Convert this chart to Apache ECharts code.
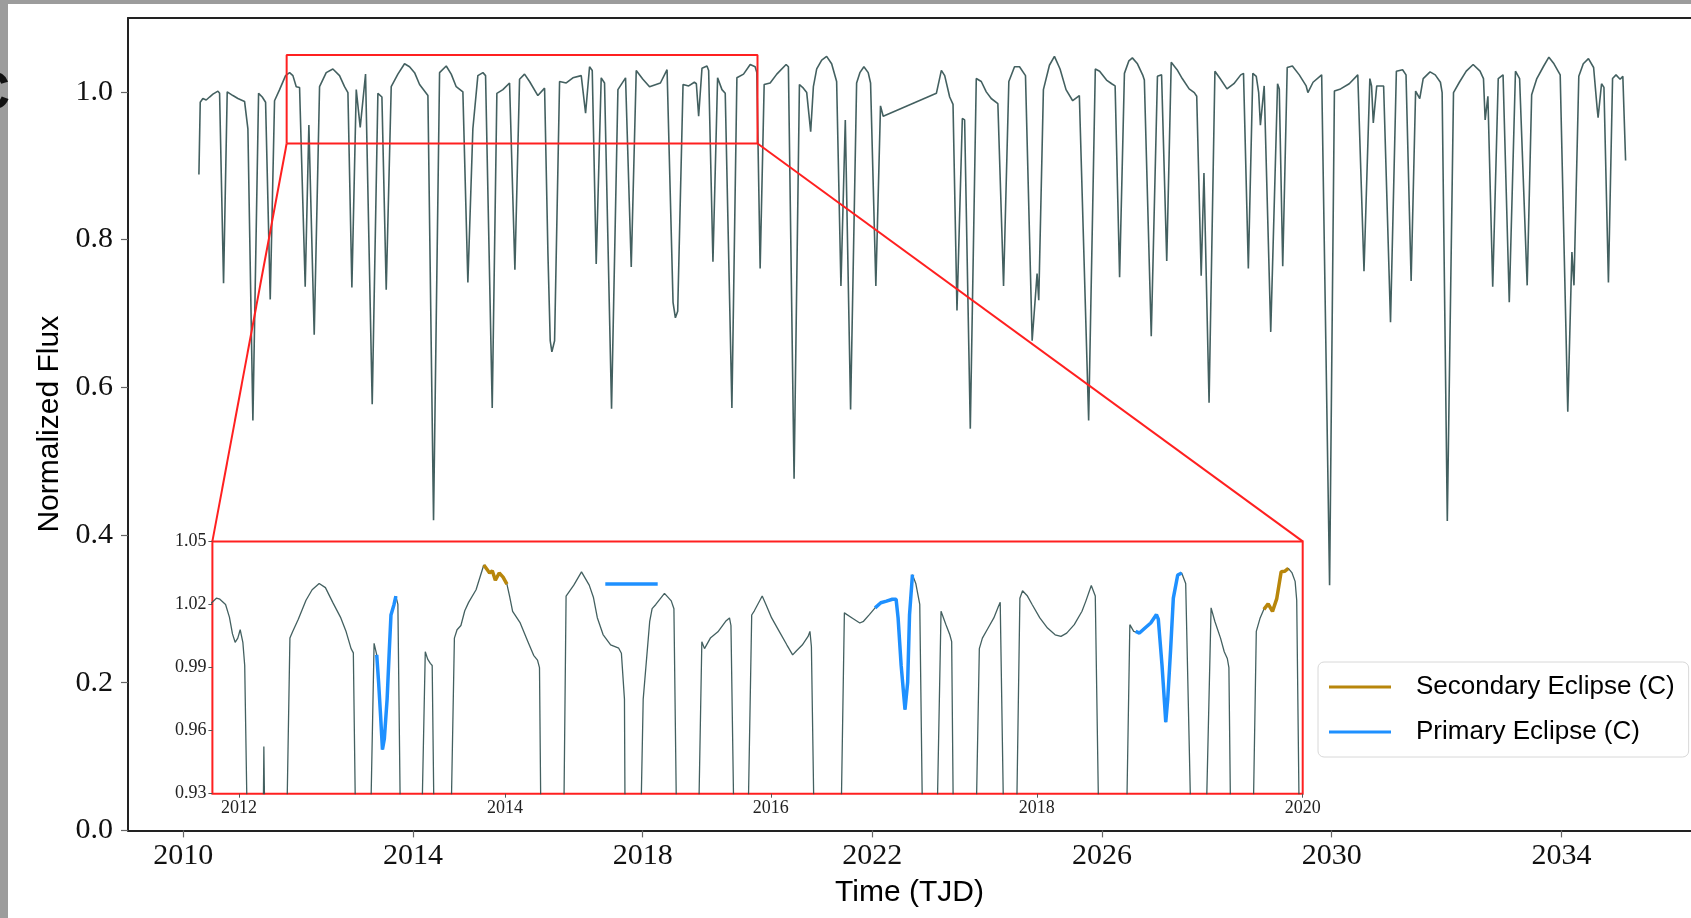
<!DOCTYPE html>
<html><head><meta charset="utf-8">
<script src="https://cdn.jsdelivr.net/npm/echarts@6/dist/echarts.min.js"></script>
<style>html,body{margin:0;padding:0;background:#fff;overflow:hidden}#c{width:1691px;height:918px}</style>
</head><body><div id="c"></div>
<script>
// ---------- data ----------
const mainXTicks = [2010, 2014, 2018, 2022, 2026, 2030, 2034];
const mainYTicks = [0, 0.2, 0.4, 0.6, 0.8, 1.0];
const insetXTicks = [2012, 2014, 2016, 2018, 2020];
const insetYTicks = [0.93, 0.96, 0.99, 1.02, 1.05];
const zoomX = [2011.8, 2020];
const zoomY = [0.93, 1.05];

const mainTime = [2010.272,2010.295,2010.341,2010.399,2010.457,2010.516,2010.603,2010.632,2010.701,2010.765,2010.864,2010.951,2011.067,2011.125,2011.212,2011.311,2011.375,2011.433,2011.514,2011.589,2011.677,2011.781,2011.851,2011.909,2011.967,2012.025,2012.123,2012.187,2012.280,2012.373,2012.489,2012.605,2012.721,2012.808,2012.867,2012.936,2013.012,2013.081,2013.174,2013.290,2013.389,2013.459,2013.534,2013.621,2013.737,2013.853,2013.940,2014.028,2014.115,2014.260,2014.358,2014.463,2014.579,2014.666,2014.753,2014.869,2014.956,2015.043,2015.130,2015.218,2015.264,2015.380,2015.461,2015.566,2015.682,2015.775,2015.856,2015.943,2016.030,2016.175,2016.292,2016.350,2016.390,2016.419,2016.466,2016.553,2016.669,2016.785,2016.930,2017.006,2017.075,2017.122,2017.191,2017.278,2017.336,2017.458,2017.569,2017.702,2017.801,2017.888,2018.004,2018.120,2018.309,2018.425,2018.529,2018.570,2018.610,2018.703,2018.802,2018.900,2018.935,2018.975,2019.033,2019.120,2019.149,2019.224,2019.305,2019.381,2019.438,2019.554,2019.641,2019.757,2019.873,2019.959,2019.988,2020.046,2020.116,2020.220,2020.336,2020.498,2020.538,2020.637,2020.730,2020.799,2020.857,2020.926,2020.973,2021.031,2021.118,2021.204,2021.291,2021.378,2021.453,2021.529,2021.621,2021.726,2021.783,2021.853,2021.928,2021.969,2022.061,2022.142,2022.189,2022.218,2023.115,2023.202,2023.260,2023.347,2023.405,2023.474,2023.567,2023.607,2023.706,2023.810,2023.897,2023.984,2024.070,2024.186,2024.285,2024.377,2024.476,2024.563,2024.667,2024.783,2024.869,2024.898,2024.979,2025.084,2025.171,2025.269,2025.373,2025.489,2025.605,2025.767,2025.883,2025.958,2026.078,2026.168,2026.228,2026.306,2026.390,2026.468,2026.528,2026.617,2026.707,2026.737,2026.857,2026.965,2027.037,2027.127,2027.205,2027.307,2027.397,2027.517,2027.607,2027.649,2027.727,2027.775,2027.864,2027.966,2028.056,2028.176,2028.296,2028.416,2028.464,2028.548,2028.626,2028.686,2028.728,2028.758,2028.824,2028.938,2029.057,2029.087,2029.147,2029.225,2029.315,2029.435,2029.555,2029.585,2029.675,2029.825,2029.963,2030.047,2030.155,2030.305,2030.454,2030.562,2030.664,2030.694,2030.724,2030.784,2030.904,2031.024,2031.126,2031.234,2031.294,2031.383,2031.461,2031.533,2031.593,2031.713,2031.803,2031.893,2031.923,2032.013,2032.121,2032.223,2032.343,2032.463,2032.583,2032.643,2032.672,2032.720,2032.804,2032.900,2032.984,2033.092,2033.200,2033.272,2033.404,2033.482,2033.572,2033.692,2033.782,2033.871,2033.979,2034.111,2034.183,2034.219,2034.303,2034.381,2034.471,2034.561,2034.621,2034.639,2034.699,2034.741,2034.819,2034.891,2034.951,2035.022,2035.070,2035.118];
const mainFlux = [0.888,0.986,0.991,0.989,0.993,0.997,1.001,0.998,0.741,1.000,0.995,0.991,0.987,0.950,0.555,0.998,0.993,0.986,0.719,0.988,1.003,1.022,1.026,1.022,1.007,1.006,0.736,0.955,0.671,1.007,1.026,1.031,1.022,1.007,0.999,0.735,1.003,0.952,1.024,0.577,0.998,0.993,0.732,1.007,1.024,1.038,1.034,1.026,1.010,0.995,0.420,1.026,1.035,1.024,1.007,1.000,0.742,0.950,1.022,1.026,1.022,0.572,0.998,1.003,1.012,0.759,1.017,1.024,1.014,0.995,1.005,0.782,0.663,0.648,0.663,1.014,1.012,1.019,1.022,0.971,1.034,1.029,0.767,1.019,1.012,0.571,1.003,1.019,0.763,1.029,1.017,1.007,1.012,1.030,0.715,0.694,0.703,1.010,1.008,1.013,1.011,0.967,1.032,1.035,1.029,0.770,1.019,1.003,0.998,0.572,1.019,1.024,1.037,1.034,1.026,0.761,1.010,1.012,1.024,1.037,1.034,0.476,1.010,1.005,0.999,0.946,1.007,1.031,1.043,1.048,1.038,1.014,0.737,0.962,0.570,1.012,1.026,1.034,1.026,1.012,0.737,0.981,0.967,0.969,0.998,1.029,1.022,0.993,0.983,0.704,0.964,0.962,0.544,1.018,1.014,1.000,0.991,0.984,0.737,1.014,1.034,1.034,1.022,0.663,0.754,0.718,1.003,1.036,1.048,1.031,1.003,0.988,0.995,0.555,1.031,1.028,1.016,1.011,1.008,0.749,1.025,1.042,1.046,1.038,1.023,1.016,0.669,1.021,1.023,0.771,1.040,1.030,1.018,1.004,0.999,0.994,0.751,0.890,0.579,1.028,1.018,1.004,1.011,1.023,1.025,0.761,1.025,1.021,0.999,0.955,1.008,0.675,1.011,1.004,0.764,1.033,1.035,1.023,1.008,0.999,1.013,1.023,0.332,1.001,1.004,1.011,1.023,0.757,1.018,1.008,0.958,1.008,1.008,0.688,1.028,1.030,1.023,0.744,1.001,0.991,1.018,1.027,1.023,1.013,0.999,0.419,0.999,1.013,1.028,1.037,1.028,1.018,0.962,0.994,0.736,1.018,1.023,0.715,1.028,1.018,0.738,0.996,1.018,1.035,1.047,1.038,1.023,0.567,0.783,0.738,1.021,1.038,1.045,1.033,0.979,0.965,1.011,1.006,0.742,1.018,1.023,1.017,1.021,0.907];

const insetTime = [2011.78,2011.83,2011.856,2011.899,2011.928,2011.951,2011.971,2011.991,2012.009,2012.029,2012.043,2012.066,2012.180,2012.187,2012.197,2012.355,2012.383,2012.403,2012.446,2012.504,2012.550,2012.603,2012.650,2012.705,2012.763,2012.806,2012.843,2012.860,2012.880,2012.985,2013.016,2013.036,2013.050,2013.065,2013.079,2013.093,2013.114,2013.131,2013.143,2013.166,2013.180,2013.195,2013.217,2013.370,2013.401,2013.419,2013.439,2013.453,2013.470,2013.590,2013.620,2013.640,2013.669,2013.698,2013.727,2013.783,2013.841,2013.862,2013.885,2013.905,2013.928,2013.957,2013.986,2014.015,2014.035,2014.058,2014.115,2014.173,2014.216,2014.245,2014.260,2014.273,2014.440,2014.460,2014.518,2014.576,2014.634,2014.666,2014.695,2014.738,2014.795,2014.856,2014.876,2014.899,2014.905,2015.017,2015.040,2015.089,2015.107,2015.135,2015.200,2015.251,2015.271,2015.294,2015.452,2015.481,2015.501,2015.545,2015.602,2015.660,2015.689,2015.700,2015.726,2015.824,2015.856,2015.876,2015.935,2015.963,2016.006,2016.063,2016.121,2016.164,2016.193,2016.236,2016.280,2016.294,2016.305,2016.329,2016.524,2016.553,2016.611,2016.669,2016.697,2016.741,2016.784,2016.827,2016.870,2016.914,2016.942,2016.957,2016.980,2017.009,2017.029,2017.043,2017.065,2017.090,2017.120,2017.144,2017.245,2017.280,2017.317,2017.346,2017.360,2017.375,2017.539,2017.568,2017.591,2017.634,2017.677,2017.712,2017.725,2017.755,2017.844,2017.873,2017.893,2017.930,2017.965,2018.023,2018.081,2018.138,2018.182,2018.225,2018.282,2018.340,2018.369,2018.410,2018.440,2018.470,2018.671,2018.700,2018.729,2018.744,2018.772,2018.786,2018.814,2018.857,2018.900,2018.914,2018.942,2018.962,2018.970,2018.985,2019.007,2019.027,2019.060,2019.090,2019.120,2019.165,2019.268,2019.311,2019.339,2019.382,2019.410,2019.433,2019.445,2019.461,2019.623,2019.651,2019.680,2019.708,2019.740,2019.773,2019.805,2019.838,2019.864,2019.892,2019.920,2019.943,2019.955,2019.977];
const insetFlux = [1.020,1.023,1.0225,1.020,1.014,1.006,1.002,1.004,1.008,1.002,0.991,0.900,0.900,0.9525,0.900,0.900,1.004,1.007,1.013,1.022,1.027,1.030,1.028,1.021,1.014,1.007,0.999,0.997,0.900,0.900,1.0015,0.996,0.983,0.967,0.951,0.956,0.975,0.999,1.015,1.020,1.024,1.020,0.900,0.900,0.9975,0.994,0.992,0.991,0.900,0.900,1.004,1.008,1.010,1.017,1.021,1.027,1.0388,1.037,1.035,1.036,1.0315,1.035,1.033,1.0297,1.024,1.0167,1.0112,1.0023,0.9958,0.9935,0.990,0.900,0.900,1.024,1.0292,1.0355,1.0292,1.0233,1.0137,1.0057,1.0008,0.9992,0.9968,0.975,0.900,0.900,0.975,1.012,1.018,1.020,1.0253,1.0217,1.018,0.900,0.900,1.0023,0.999,1.004,1.007,1.012,1.0136,1.010,0.900,0.900,1.015,1.017,1.024,1.020,1.0136,1.0072,1.0007,0.996,0.998,1.0007,1.0048,1.0072,1.000,0.900,0.900,1.016,1.0136,1.0112,1.012,1.0152,1.0184,1.0208,1.0216,1.0225,1.0225,1.0136,0.991,0.970,0.983,1.015,1.0342,1.030,1.020,0.900,0.900,1.0168,1.0104,1.0056,1.0023,0.900,0.900,0.999,1.004,1.0088,1.0136,1.0192,1.021,0.900,0.900,1.023,1.0265,1.024,1.020,1.0136,1.0088,1.0056,1.0048,1.0064,1.0104,1.0168,1.0216,1.029,1.024,0.900,0.900,1.0104,1.0072,1.0072,1.0064,1.0064,1.0088,1.0112,1.0152,1.013,0.991,0.972,0.964,0.975,0.999,1.023,1.034,1.035,1.030,0.900,0.900,1.0184,1.012,1.004,0.9975,0.9943,0.990,0.900,0.900,1.0072,1.0136,1.0177,1.0203,1.0167,1.0228,1.0356,1.0358,1.0372,1.035,1.031,1.022,0.900];

const primaryTime = [2013.036,2013.050,2013.065,2013.079,2013.093,2013.114,2013.131,2013.143,2013.166,2013.180,null,2014.755,2015.149,null,2016.784,2016.827,2016.870,2016.914,2016.942,2016.957,2016.980,2017.009,2017.029,2017.043,2017.065,null,2018.744,2018.772,2018.786,2018.814,2018.857,2018.900,2018.914,2018.942,2018.962,2018.970,2018.985,2019.007,2019.027,2019.060,2019.090];
const primaryFlux = [0.996,0.983,0.967,0.951,0.956,0.975,0.999,1.015,1.020,1.024,null,1.0297,1.0297,null,1.0184,1.0208,1.0216,1.0225,1.0225,1.0136,0.991,0.970,0.983,1.015,1.0342,null,1.0072,1.0064,1.0064,1.0088,1.0112,1.0152,1.013,0.991,0.972,0.964,0.975,0.999,1.023,1.034,1.035];

const secondaryTime = [2013.841,2013.862,2013.885,2013.905,2013.928,2013.957,2013.986,2014.015,null,2019.708,2019.740,2019.773,2019.805,2019.838,2019.864,2019.892];
const secondaryFlux = [1.0388,1.037,1.035,1.036,1.0315,1.035,1.033,1.0297,null,1.0177,1.0203,1.0167,1.0228,1.0356,1.0358,1.0372];

// ---------- helpers ----------
function pairs(t, f) { return t.map((v, i) => [v, f[i]]); }
function segments(t, f) {
  const out = []; let cur = [];
  t.forEach((v, i) => { if (v === null) { if (cur.length) out.push(cur); cur = []; } else cur.push([v, f[i]]); });
  if (cur.length) out.push(cur);
  return out;
}
const SERIF = 'Liberation Serif';
const SANS = 'Liberation Sans';
const GREY = '#2f4f4f';
const RED = '#ff2020';
const GOLD = '#b8860b';
const BLUE = '#1e90ff';
const plain = v => String(v);

const chart = echarts.init(document.getElementById('c'), null, {renderer: 'canvas'});

const series = [
  { name: 'flux', type: 'line', xAxisIndex: 0, yAxisIndex: 0, data: pairs(mainTime, mainFlux),
    showSymbol: false, symbol: 'none', lineStyle: { color: GREY, width: 1.6, opacity: 0.9 }, z: 5, silent: true },
  { name: 'box', type: 'line', xAxisIndex: 0, yAxisIndex: 0,
    data: [[zoomX[0], zoomY[0]], [zoomX[0], zoomY[1]], [zoomX[1], zoomY[1]], [zoomX[1], zoomY[0]], [zoomX[0], zoomY[0]]],
    showSymbol: false, symbol: 'none', lineStyle: { color: RED, width: 2 }, z: 8, silent: true },
  { name: 'inset', type: 'line', xAxisIndex: 2, yAxisIndex: 1, data: pairs(insetTime, insetFlux),
    showSymbol: false, symbol: 'none', clip: true, lineStyle: { color: GREY, width: 1.3, opacity: 0.9 }, z: 6, silent: true }
];
segments(secondaryTime, secondaryFlux).forEach(seg => series.push({
  name: 'Secondary Eclipse (C)', type: 'line', xAxisIndex: 2, yAxisIndex: 1, data: seg,
  showSymbol: false, symbol: 'none', clip: true, color: GOLD, lineStyle: { color: GOLD, width: 3.5 }, z: 7, silent: true }));
segments(primaryTime, primaryFlux).forEach(seg => series.push({
  name: 'Primary Eclipse (C)', type: 'line', xAxisIndex: 2, yAxisIndex: 1, data: seg,
  showSymbol: false, symbol: 'none', clip: true, color: BLUE, lineStyle: { color: BLUE, width: 3.5 }, z: 7, silent: true }));

const option = {
  animation: false,
  backgroundColor: '#fff',
  grid: [
    { left: 128, top: 18, right: 0, bottom: 87.6, containLabel: false },
    { left: 212.4, top: 541.4, right: 388.3, bottom: 124.3, show: true, backgroundColor: '#fff',
      borderColor: RED, borderWidth: 2 }
  ],
  xAxis: [
    { type: 'value', gridIndex: 0, min: 2009.037, max: 2036.257, splitLine: { show: false },
      axisLine: { show: true, onZero: false, lineStyle: { color: '#222', width: 2 } },
      axisTick: { show: true, customValues: mainXTicks, length: 7, lineStyle: { color: '#666', width: 1.2 } },
      axisLabel: { customValues: mainXTicks, formatter: plain, fontSize: 30, fontFamily: SERIF, color: '#111', margin: 11 },
      name: 'Time (TJD)', nameLocation: 'middle', nameGap: 47,
      nameTextStyle: { fontSize: 30, fontFamily: SANS, color: '#000' } },
    { type: 'value', gridIndex: 0, position: 'top', min: 2009.037, max: 2036.257, splitLine: { show: false },
      axisLine: { show: true, onZero: false, lineStyle: { color: '#222', width: 2 } },
      axisTick: { show: false }, axisLabel: { show: false } },
    { type: 'value', gridIndex: 1, min: zoomX[0], max: zoomX[1], splitLine: { show: false },
      axisLine: { show: false, onZero: false },
      axisTick: { show: true, customValues: insetXTicks, length: 4, lineStyle: { color: '#555' } },
      axisLabel: { customValues: insetXTicks, formatter: plain, fontSize: 18, fontFamily: SERIF, color: '#222', margin: 6 } }
  ],
  yAxis: [
    { type: 'value', gridIndex: 0, min: 0, max: 1.1, splitLine: { show: false },
      axisLine: { show: true, onZero: false, lineStyle: { color: '#222', width: 2 } },
      axisTick: { show: true, customValues: mainYTicks, length: 7, lineStyle: { color: '#666', width: 1.2 } },
      axisLabel: { customValues: mainYTicks, formatter: v => v.toFixed(1), fontSize: 30, fontFamily: SERIF, color: '#111', margin: 15 },
      name: 'Normalized Flux', nameLocation: 'middle', nameGap: 62, nameRotate: 90,
      nameTextStyle: { fontSize: 30, fontFamily: SANS, color: '#000' } },
    { type: 'value', gridIndex: 1, min: zoomY[0], max: zoomY[1], splitLine: { show: false },
      axisLine: { show: false, onZero: false },
      axisTick: { show: true, customValues: insetYTicks, length: 4, lineStyle: { color: '#555' } },
      axisLabel: { customValues: insetYTicks, formatter: v => v.toFixed(2), fontSize: 18, fontFamily: SERIF, color: '#222', margin: 6 } }
  ],
  legend: {
    orient: 'vertical', left: 1318, top: 662,
    data: ['Secondary Eclipse (C)', 'Primary Eclipse (C)'],
    icon: 'rect', itemWidth: 62, itemHeight: 3, itemGap: 19,
    textStyle: { fontSize: 26, fontFamily: SANS, color: '#000', padding: [0, 0, 0, 20] },
    backgroundColor: '#fff', borderColor: '#d8d8d8', borderWidth: 1, borderRadius: 6,
    padding: [12, 14, 12, 11]
  },
  series: series
};
chart.setOption(option);

// connector lines and page decorations
const pBL = chart.convertToPixel({ xAxisIndex: 0, yAxisIndex: 0 }, [zoomX[0], zoomY[0]]);
const pBR = chart.convertToPixel({ xAxisIndex: 0, yAxisIndex: 0 }, [zoomX[1], zoomY[0]]);
const iTL = chart.convertToPixel({ xAxisIndex: 2, yAxisIndex: 1 }, [zoomX[0], zoomY[1]]);
const iTR = chart.convertToPixel({ xAxisIndex: 2, yAxisIndex: 1 }, [zoomX[1], zoomY[1]]);
chart.setOption({
  graphic: [
    { type: 'line', shape: { x1: pBL[0], y1: pBL[1], x2: iTL[0], y2: iTL[1] }, style: { stroke: RED, lineWidth: 2 }, z: 10, silent: true },
    { type: 'line', shape: { x1: pBR[0], y1: pBR[1], x2: iTR[0], y2: iTR[1] }, style: { stroke: RED, lineWidth: 2 }, z: 10, silent: true },
    { type: 'rect', shape: { x: 0, y: 0, width: 8, height: 918 }, style: { fill: '#9c9c9c' }, z: 20, silent: true },
    { type: 'rect', shape: { x: 0, y: 0, width: 1691, height: 4 }, style: { fill: '#9c9c9c' }, z: 20, silent: true },
    { type: 'text', x: 10, y: 94, style: { text: 'C', font: 'bold 54px Liberation Sans', fill: '#111', align: 'right', verticalAlign: 'middle' }, z: 21, silent: true }
  ]
});
</script>
</body></html>
